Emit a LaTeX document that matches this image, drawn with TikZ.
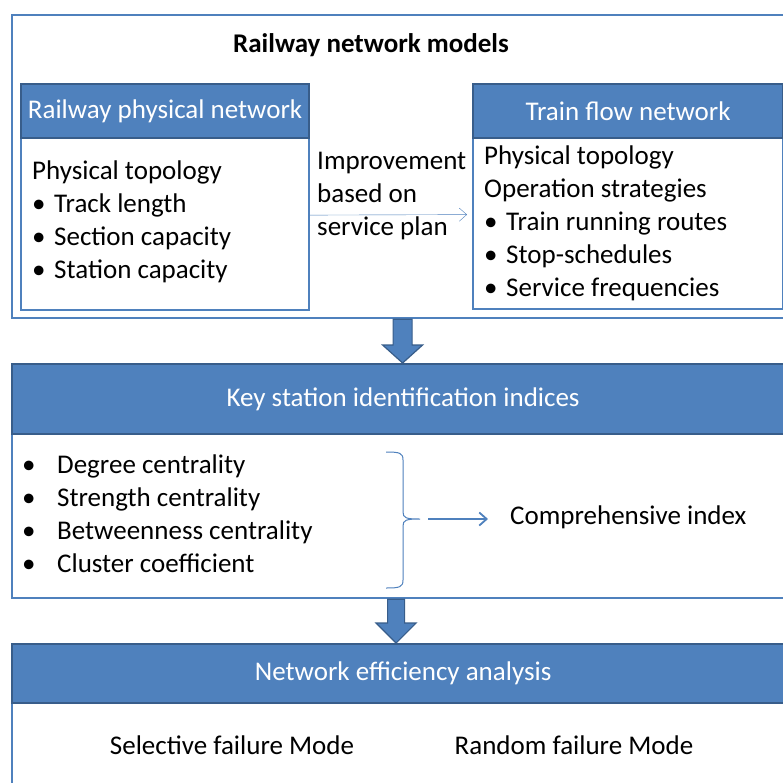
\documentclass[tikz,border=0pt]{standalone}
\usepackage{fontspec}
\setmainfont{Carlito}
\usepackage{xcolor}
\usetikzlibrary{arrows.meta, positioning, calc}

\definecolor{officeblue}{HTML}{4F81BD}
\definecolor{officedark}{HTML}{385D8A}

\begin{document}
\begin{tikzpicture}[
        x=1pt, y=-1pt,
        every node/.style={
            font=\fontsize{27}{33}\selectfont
        },
        panel/.style={
            draw=officeblue,
            line width=2.2pt,
            fill=white,
            anchor=north west,
            inner sep=0pt
        },
        header/.style={
            draw=officedark,
            line width=2.2pt,
            fill=officeblue,
            text=white,
            anchor=north west,
            inner sep=0pt
        },
        list/.style={
            align=left,
            anchor=west,
            inner sep=0pt
        },
        arrow/.style={
            -{Straight Barb[length=2.6mm, width=4.6mm]},
            draw=officeblue
        },
        blockarrow/.style={
            fill=officeblue,
            draw=officedark,
            line width=1.2pt
        },
        curly/.style={
            draw=officeblue,
            line width=1pt
        }
    ]

    \clip (0,0) rectangle (783,782);

    % Railway network models
    \node[panel, minimum width=790, minimum height=303] (models) at (11,14) {};
    \node (title) at (371,45) {\bfseries Railway network models};

    \node[panel, minimum width=288, minimum height=226] (physbox) at (20,83) {};
    \node[header, minimum width=288, minimum height=54] (physhead) at (20,83) {Railway physical network};

    \node[panel, minimum width=310, minimum height=225] (flowbox) at (472,83) {};
    \node[header, minimum width=310, minimum height=54] (flowhead) at (472,83) {Train flow network};

    \node[list] (physlist) at (32,222) {
        Physical topology\\
        \makebox[22pt][l]{\textbullet}Track length\\
        \makebox[22pt][l]{\textbullet}Section capacity\\
        \makebox[22pt][l]{\textbullet}Station capacity
    };

    \node[list] (improve) at (317,196) {
        Improvement\\
        based on\\
        service plan
    };

    \node[list] (flowlist) at (484,223) {
        Physical topology\\
        Operation strategies\\
        \makebox[22pt][l]{\textbullet}Train running routes\\
        \makebox[22pt][l]{\textbullet}Stop-schedules\\
        \makebox[22pt][l]{\textbullet}Service frequencies
    };

    \draw[arrow] ([yshift=-18pt]physbox.east) -- ([xshift=-5pt,yshift=-18pt]flowbox.west);

    % Key station identification
    \node[panel, minimum width=790, minimum height=164] (keybody) at (11,433) {};
    \node[header, minimum width=782, minimum height=70] (keyhead) at (11,363) {Key station identification indices};

    \node[list] (keylist) at (22,514) {
        \makebox[35pt][l]{\textbullet}Degree centrality\\
        \makebox[35pt][l]{\textbullet}Strength centrality\\
        \makebox[35pt][l]{\textbullet}Betweenness centrality\\
        \makebox[35pt][l]{\textbullet}Cluster coefficient
    };

    \node[list] (comp) at (510,517) {Comprehensive index};

    % Brace
    \coordinate (bracetip) at (420,519);
    \draw[curly]
        (386,452) .. controls (400,452) and (403,453) .. (403,460)
        -- (403,512) .. controls (403,518) and (406,519) .. (bracetip)
        .. controls (406,519) and (403,520) .. (403,526)
        -- (403,580) .. controls (403,587) and (400,588) .. (386,588);
    \draw[arrow, line width=1.8pt] ([xshift=8pt]bracetip) -- ($(bracetip -| comp.west)+(-22,0)$);

    % Network efficiency analysis
    \node[panel, minimum width=790, minimum height=100] (netbody) at (11,702) {};
    \node[header, minimum width=782, minimum height=59] (nethead) at (11,643) {Network efficiency analysis};

    \node (selective) at (232,745) {Selective failure Mode};
    \node (random) at (574,745) {Random failure Mode};

    % Block arrows between stages
    \coordinate (arrowone) at ($(keyhead.north)+(-0.5,0)$);
    \coordinate (arrowtwo) at ($(nethead.north)+(-7,0)$);

    \draw[blockarrow]
        ($(models.south -| arrowone)+(-9.5,0)$)
        |- ($(arrowone)+(-20,-18)$)
        -- (arrowone)
        -- ($(arrowone)+(20,-18)$)
        -| ($(models.south -| arrowone)+(9.5,0)$)
        -- cycle;

    \draw[blockarrow]
        ($(keybody.south -| arrowtwo)+(-8.5,0)$)
        |- ($(arrowtwo)+(-20,-20)$)
        -- (arrowtwo)
        -- ($(arrowtwo)+(20,-20)$)
        -| ($(keybody.south -| arrowtwo)+(8.5,0)$)
        -- cycle;

\end{tikzpicture}
\end{document}
